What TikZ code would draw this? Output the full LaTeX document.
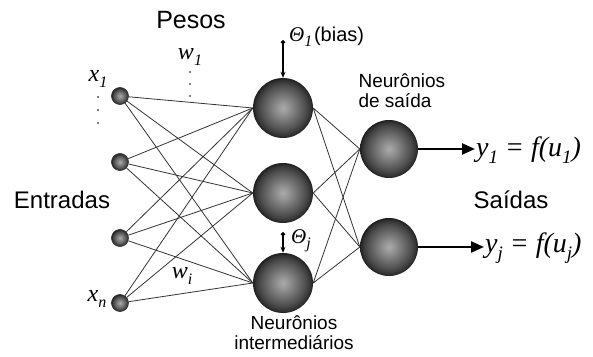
\documentclass[tikz,border=0pt]{standalone}
\usepackage{fontspec}
\setmainfont{Liberation Sans}
\newfontfamily\tms{Liberation Serif}
\usetikzlibrary{arrows.meta}

\pgfdeclareradialshading{neuronio}{\pgfpoint{0bp}{0bp}}{%
  color(0bp)=(black!33); color(5bp)=(black!42); color(13bp)=(black!58);
  color(19bp)=(black!70); color(23bp)=(black!80); color(25bp)=(black!88); color(50bp)=(black!88)}

\newcommand{\subidx}[1]{\raisebox{-0.55ex}{\fontsize{16}{16}\selectfont #1}}
\newcommand{\subout}[1]{\raisebox{-0.55ex}{\fontsize{19}{19}\selectfont #1}}

\tikzset{
    entrada/.style = {circle, inner sep=0pt, minimum size=17pt, shading=neuronio, draw=black!80, line width=0.7pt},
    oculto/.style = {circle, inner sep=0pt, minimum size=60pt, shading=neuronio},
    saida/.style = {circle, inner sep=0pt, minimum size=58pt, shading=neuronio},
    titulo/.style = {font=\fontsize{24}{28}\selectfont},
    legenda/.style = {font=\fontsize{19}{20}\selectfont, align=left},
    simbolo/.style = {font=\tms\itshape\fontsize{24}{26}\selectfont, inner sep=1pt},
    resultado/.style = {font=\tms\itshape\fontsize{28}{30}\selectfont, inner sep=1pt},
    peso/.style = {draw=black!80, line width=0.8pt},
    vies/.style = {line width=1.1pt, {Circle[length=4.5pt]}-{Stealth[length=6pt,width=5pt]}},
    resposta/.style = {line width=2.3pt, -{Triangle[length=13pt,width=11pt]}}
}

\begin{document}
\begin{tikzpicture}[x=1pt, y=1pt]
            \useasboundingbox (0,0) rectangle (593,356);

            % entradas
            \node[entrada] (x1) at (120,260) {};
            \node[entrada] (x2) at (120,194) {};
            \node[entrada] (x3) at (120,118) {};
            \node[entrada] (xn) at (120,53) {};

            % camada intermediaria
            \node[oculto] (h1) at (283,248) {};
            \node[oculto] (h2) at (283,163) {};
            \node[oculto] (h3) at (283,73) {};

            % saidas
            \node[saida] (o1) at (389,207) {};
            \node[saida] (o2) at (389,109) {};

            \draw[peso] (x1) -- (h1.west) (x1) -- (h2.west) (x1) -- (h3.west);
            \draw[peso] (x2) -- (h1.west) (x2) -- (h2.west) (x2) -- (h3.west);
            \draw[peso] (x3) -- (h1.west) (x3) -- (h2.west) (x3) -- (h3.west);
            \draw[peso] (xn) -- (h1.west) (xn) -- (h2.west) (xn) -- (h3.west);
            \draw[peso] (h1.east) -- (o1.west) (h1.east) -- (o2.west);
            \draw[peso] (h2.east) -- (o1.west) (h2.east) -- (o2.west);
            \draw[peso] (h3.east) -- (o1.west) (h3.east) -- (o2.west);

            % textos
            \node[titulo, font=\fontsize{25}{28}\selectfont] (pesos) at (191,336) {Pesos};
            \node[titulo] (entradas) at (62,156) {Entradas};
            \node[titulo] (saidas) at (511,156) {Saídas};
            \node[legenda, anchor=west] (nsaida) at (355,265) {Neurônios\\de saída};
            \node[legenda, align=center] (ninter) at (294,23) {Neurônios\\intermediários};

            \node[simbolo] (lx1) at (98,277) {x\subidx{1}};
            \node[simbolo] (lxn) at (97,57) {x\subidx{n}};
            \node[simbolo] (lw1) at (190,299) {w\subidx{1}};
            \node[simbolo] (lwi) at (182,80) {w\subidx{i}};

            \fill (98,259) circle (0.8) (98,246) circle (0.8) (98,233) circle (0.8);
            \fill (190,284) circle (0.8) (190,272) circle (0.8) (190,260) circle (0.8);

            % bias
            \coordinate (b1) at (283,316);
            \coordinate (bj) at (283,124);
            \draw[vies] (b1) -- (h1.north);
            \draw[vies] (bj) -- (h3.north);
            \node[anchor=west, inner sep=0pt] (t1) at (289,319)
                {{\tms\itshape\fontsize{21}{22}\selectfont Θ\subidx{1}}\,{\fontsize{20}{22}\selectfont(bias)}};
            \node[anchor=west, inner sep=0pt] (tj) at (291,115)
                {\tms\itshape\fontsize{21}{22}\selectfont Θ\subidx{j}};

            % respostas
            \node[resultado, anchor=west] (y1) at (475,206) {y\subout{1} = f(u\subout{1})};
            \node[resultado, anchor=west] (yj) at (484,108) {y\subout{j} = f(u\subout{j})};
            \draw[resposta] (o1.east) -- (y1.west |- o1.east);
            \draw[resposta] (o2.east) -- (yj.west |- o2.east);
        \end{tikzpicture}
\end{document}
